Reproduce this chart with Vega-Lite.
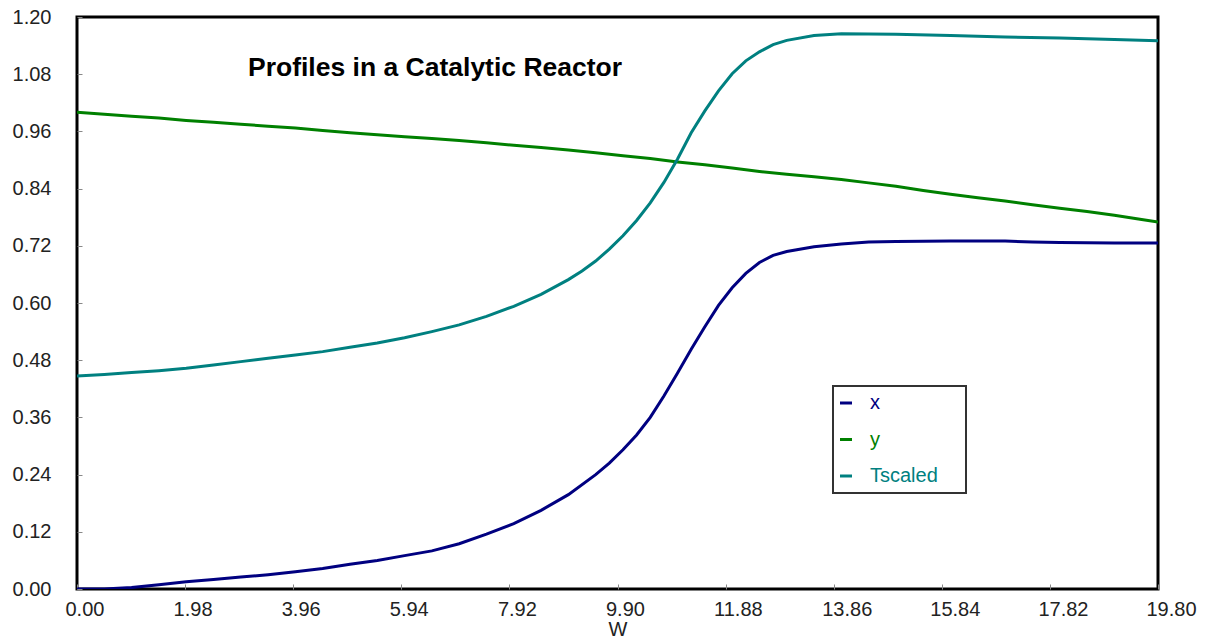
{
  "$schema": "https://vega.github.io/schema/vega-lite/v6.json",
  "autosize": "none",
  "width": 1081,
  "height": 572,
  "padding": {"left": 77, "top": 17, "right": 52, "bottom": 50},
  "background": "#ffffff",
  "config": {
    "view": {"stroke": "#000000", "strokeWidth": 3},
    "font": "Liberation Sans",
    "axis": {
      "domain": false,
      "grid": false,
      "labelFont": "Liberation Sans",
      "labelFontSize": 20,
      "labelColor": "#222222",
      "tickColor": "#888888",
      "tickWidth": 1,
      "tickSize": -5,
      "titleFont": "Liberation Sans",
      "titleFontSize": 20,
      "titleFontWeight": "normal",
      "titleColor": "#222222"
    }
  },
  "title": {
    "text": "Profiles in a Catalytic Reactor",
    "anchor": "start",
    "frame": "group",
    "orient": "top",
    "offset": 0,
    "dx": 171,
    "dy": 95,
    "baseline": "alphabetic",
    "font": "Liberation Sans",
    "fontSize": 26.5,
    "fontWeight": "bold",
    "color": "#000000"
  },
  "data": {
    "values": [
      {"W": 0.0, "series": "x", "value": 0.0},
      {"W": 0.5, "series": "x", "value": 0.0},
      {"W": 1.0, "series": "x", "value": 0.003},
      {"W": 1.5, "series": "x", "value": 0.009},
      {"W": 2.0, "series": "x", "value": 0.015},
      {"W": 2.5, "series": "x", "value": 0.02},
      {"W": 3.0, "series": "x", "value": 0.025},
      {"W": 3.5, "series": "x", "value": 0.03},
      {"W": 4.0, "series": "x", "value": 0.036},
      {"W": 4.5, "series": "x", "value": 0.043},
      {"W": 5.0, "series": "x", "value": 0.052},
      {"W": 5.5, "series": "x", "value": 0.06},
      {"W": 6.0, "series": "x", "value": 0.07},
      {"W": 6.5, "series": "x", "value": 0.08},
      {"W": 7.0, "series": "x", "value": 0.095},
      {"W": 7.5, "series": "x", "value": 0.115},
      {"W": 8.0, "series": "x", "value": 0.137},
      {"W": 8.5, "series": "x", "value": 0.165},
      {"W": 9.0, "series": "x", "value": 0.198},
      {"W": 9.5, "series": "x", "value": 0.24},
      {"W": 9.75, "series": "x", "value": 0.264},
      {"W": 10.0, "series": "x", "value": 0.292},
      {"W": 10.25, "series": "x", "value": 0.323},
      {"W": 10.5, "series": "x", "value": 0.36},
      {"W": 10.75, "series": "x", "value": 0.405},
      {"W": 11.0, "series": "x", "value": 0.453},
      {"W": 11.25, "series": "x", "value": 0.503},
      {"W": 11.5, "series": "x", "value": 0.55},
      {"W": 11.75, "series": "x", "value": 0.595},
      {"W": 12.0, "series": "x", "value": 0.632},
      {"W": 12.25, "series": "x", "value": 0.662},
      {"W": 12.5, "series": "x", "value": 0.685},
      {"W": 12.75, "series": "x", "value": 0.7},
      {"W": 13.0, "series": "x", "value": 0.708},
      {"W": 13.5, "series": "x", "value": 0.718},
      {"W": 14.0, "series": "x", "value": 0.724},
      {"W": 14.5, "series": "x", "value": 0.728},
      {"W": 15.0, "series": "x", "value": 0.729},
      {"W": 16.0, "series": "x", "value": 0.73},
      {"W": 17.0, "series": "x", "value": 0.73},
      {"W": 17.5, "series": "x", "value": 0.728},
      {"W": 18.0, "series": "x", "value": 0.727},
      {"W": 19.0, "series": "x", "value": 0.726},
      {"W": 19.8, "series": "x", "value": 0.726},

      {"W": 0.0, "series": "y", "value": 1.0},
      {"W": 0.5, "series": "y", "value": 0.996},
      {"W": 1.0, "series": "y", "value": 0.992},
      {"W": 1.5, "series": "y", "value": 0.988},
      {"W": 2.0, "series": "y", "value": 0.983},
      {"W": 2.5, "series": "y", "value": 0.979},
      {"W": 3.0, "series": "y", "value": 0.975},
      {"W": 3.5, "series": "y", "value": 0.971},
      {"W": 4.0, "series": "y", "value": 0.967},
      {"W": 4.5, "series": "y", "value": 0.962},
      {"W": 5.0, "series": "y", "value": 0.957},
      {"W": 5.5, "series": "y", "value": 0.953},
      {"W": 6.0, "series": "y", "value": 0.949},
      {"W": 6.5, "series": "y", "value": 0.945},
      {"W": 7.0, "series": "y", "value": 0.941},
      {"W": 7.5, "series": "y", "value": 0.936},
      {"W": 8.0, "series": "y", "value": 0.931},
      {"W": 8.5, "series": "y", "value": 0.926},
      {"W": 9.0, "series": "y", "value": 0.921},
      {"W": 9.5, "series": "y", "value": 0.915},
      {"W": 10.0, "series": "y", "value": 0.909},
      {"W": 10.5, "series": "y", "value": 0.903},
      {"W": 11.0, "series": "y", "value": 0.896},
      {"W": 11.5, "series": "y", "value": 0.89},
      {"W": 12.0, "series": "y", "value": 0.883},
      {"W": 12.5, "series": "y", "value": 0.876},
      {"W": 13.0, "series": "y", "value": 0.87},
      {"W": 13.5, "series": "y", "value": 0.865},
      {"W": 14.0, "series": "y", "value": 0.859},
      {"W": 14.5, "series": "y", "value": 0.852},
      {"W": 15.0, "series": "y", "value": 0.845},
      {"W": 15.5, "series": "y", "value": 0.836},
      {"W": 16.0, "series": "y", "value": 0.828},
      {"W": 16.5, "series": "y", "value": 0.821},
      {"W": 17.0, "series": "y", "value": 0.814},
      {"W": 17.5, "series": "y", "value": 0.806},
      {"W": 18.0, "series": "y", "value": 0.799},
      {"W": 18.5, "series": "y", "value": 0.792},
      {"W": 19.0, "series": "y", "value": 0.784},
      {"W": 19.5, "series": "y", "value": 0.775},
      {"W": 19.8, "series": "y", "value": 0.77},

      {"W": 0.0, "series": "Tscaled", "value": 0.447},
      {"W": 0.5, "series": "Tscaled", "value": 0.45},
      {"W": 1.0, "series": "Tscaled", "value": 0.454},
      {"W": 1.5, "series": "Tscaled", "value": 0.458},
      {"W": 2.0, "series": "Tscaled", "value": 0.463},
      {"W": 2.5, "series": "Tscaled", "value": 0.47},
      {"W": 3.0, "series": "Tscaled", "value": 0.477},
      {"W": 3.5, "series": "Tscaled", "value": 0.484},
      {"W": 4.0, "series": "Tscaled", "value": 0.491},
      {"W": 4.5, "series": "Tscaled", "value": 0.498},
      {"W": 5.0, "series": "Tscaled", "value": 0.507},
      {"W": 5.5, "series": "Tscaled", "value": 0.516},
      {"W": 6.0, "series": "Tscaled", "value": 0.527},
      {"W": 6.5, "series": "Tscaled", "value": 0.54},
      {"W": 7.0, "series": "Tscaled", "value": 0.554},
      {"W": 7.5, "series": "Tscaled", "value": 0.572},
      {"W": 8.0, "series": "Tscaled", "value": 0.593},
      {"W": 8.5, "series": "Tscaled", "value": 0.618},
      {"W": 9.0, "series": "Tscaled", "value": 0.649},
      {"W": 9.25, "series": "Tscaled", "value": 0.667},
      {"W": 9.5, "series": "Tscaled", "value": 0.688},
      {"W": 9.75, "series": "Tscaled", "value": 0.713},
      {"W": 10.0, "series": "Tscaled", "value": 0.741},
      {"W": 10.25, "series": "Tscaled", "value": 0.773},
      {"W": 10.5, "series": "Tscaled", "value": 0.81},
      {"W": 10.75, "series": "Tscaled", "value": 0.853},
      {"W": 11.0, "series": "Tscaled", "value": 0.902},
      {"W": 11.25, "series": "Tscaled", "value": 0.957},
      {"W": 11.5, "series": "Tscaled", "value": 1.003},
      {"W": 11.75, "series": "Tscaled", "value": 1.045},
      {"W": 12.0, "series": "Tscaled", "value": 1.081},
      {"W": 12.25, "series": "Tscaled", "value": 1.108},
      {"W": 12.5, "series": "Tscaled", "value": 1.127},
      {"W": 12.75, "series": "Tscaled", "value": 1.142},
      {"W": 13.0, "series": "Tscaled", "value": 1.151},
      {"W": 13.5, "series": "Tscaled", "value": 1.161},
      {"W": 14.0, "series": "Tscaled", "value": 1.165},
      {"W": 15.0, "series": "Tscaled", "value": 1.164},
      {"W": 16.0, "series": "Tscaled", "value": 1.161},
      {"W": 17.0, "series": "Tscaled", "value": 1.158},
      {"W": 18.0, "series": "Tscaled", "value": 1.156},
      {"W": 19.0, "series": "Tscaled", "value": 1.153},
      {"W": 19.8, "series": "Tscaled", "value": 1.15}
    ]
  },
  "mark": {"type": "line", "strokeWidth": 3, "clip": true},
  "encoding": {
    "x": {
      "field": "W",
      "type": "quantitative",
      "scale": {"domain": [0, 19.8], "nice": false, "zero": false},
      "axis": {
        "values": [0, 1.98, 3.96, 5.94, 7.92, 9.9, 11.88, 13.86, 15.84, 17.82, 19.8],
        "format": ".2f",
        "title": "W",
        "labelAlign": "left",
        "labelOffset": -12,
        "labelBaseline": "top",
        "labelPadding": 15,
        "labelFlush": false,
        "labelOverlap": false,
        "titleY": 46,
        "titleBaseline": "alphabetic"
      }
    },
    "y": {
      "field": "value",
      "type": "quantitative",
      "scale": {"domain": [0, 1.2], "nice": false},
      "axis": {
        "values": [0, 0.12, 0.24, 0.36, 0.48, 0.6, 0.72, 0.84, 0.96, 1.08, 1.2],
        "format": ".2f",
        "title": null,
        "labelPadding": 31,
        "labelFlush": false,
        "labelOverlap": false,
        "labelBaseline": "middle"
      }
    },
    "color": {
      "field": "series",
      "type": "nominal",
      "sort": ["x", "y", "Tscaled"],
      "scale": {"domain": ["x", "y", "Tscaled"], "range": ["#000080", "#008000", "#008080"]},
      "legend": {
        "title": "\u00a0",
        "titleOrient": "right",
        "titlePadding": 21,
        "titleFontSize": 4,
        "orient": "none",
        "legendX": 756,
        "legendY": 369,
        "padding": 7,
        "strokeColor": "#333333",
        "fillColor": "#ffffff",
        "symbolType": "stroke",
        "symbolSize": 144,
        "symbolStrokeWidth": 3,
        "symbolOffset": -4,
        "labelOffset": 14,
        "labelFont": "Liberation Sans",
        "labelFontSize": 20,
        "labelBaseline": "middle",
        "rowPadding": 16.5,
        "encode": {
          "legend": {"update": {"strokeWidth": {"value": 2}}},
          "labels": {"update": {"fill": {"scale": "color", "field": "value"}}}
        }
      }
    }
  }
}
